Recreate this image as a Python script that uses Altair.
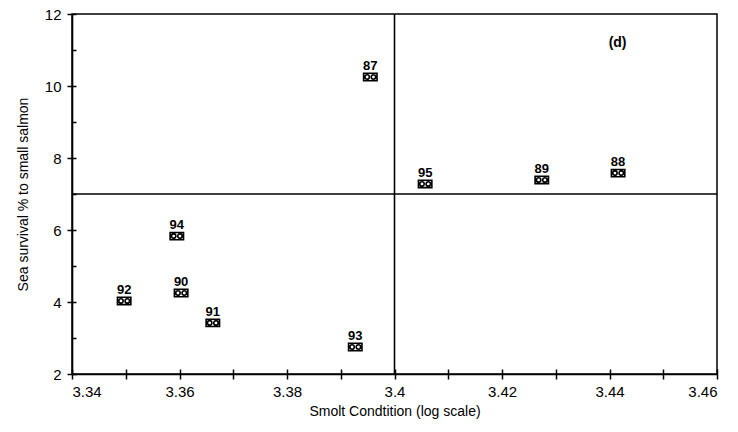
import altair as alt
import pandas as pd

years = ["87", "88", "89", "90", "91", "92", "93", "94", "95"]
condition = [3.3955, 3.4416, 3.4274, 3.3603, 3.3662, 3.3497, 3.3927, 3.3595, 3.4057]
survival = [10.25, 7.58, 7.39, 4.25, 3.42, 4.03, 2.75, 5.83, 7.28]

x_major = [3.34, 3.35, 3.36, 3.37, 3.38, 3.39, 3.40, 3.41, 3.42, 3.43, 3.44, 3.45, 3.46]
y_major = [2, 4, 6, 8, 10, 12]
y_all = [2, 3, 4, 5, 6, 7, 8, 9, 10, 11, 12]
h_line = [7.0]
v_line = [3.40]
panel_label = ["(d)"]
panel_x = [3.4415]
panel_y = [11.2]

FONT = "Liberation Sans"

df = pd.DataFrame({"year": years, "cond": condition, "surv": survival})

xs = alt.Scale(domain=[3.34, 3.46], nice=False, zero=False)
ys = alt.Scale(domain=[2, 12], nice=False, zero=False)

marker_path = ("M-1,-0.55H1V0.55H-1Z "
               "M-0.8,0A0.33,0.33 0 1,0 -0.14,0A0.33,0.33 0 1,0 -0.8,0Z "
               "M0.14,0A0.33,0.33 0 1,0 0.8,0A0.33,0.33 0 1,0 0.14,0Z")

base = alt.Chart(df)

points = base.mark_point(shape=marker_path, filled=False, size=180,
                         stroke="black", strokeWidth=1.6, opacity=1).encode(
    x=alt.X("cond:Q", scale=xs, axis=alt.Axis(
        values=x_major, title="Smolt Condtition (log scale)",
        labelExpr="abs(round(datum.value*100) % 2) < 0.5 ? format(datum.value, '~g') : ''",
        tickSize=5, tickColor="black", tickWidth=1.5, domainColor="black", domainWidth=1.6,
        labelFont=FONT, labelFontSize=15, labelColor="black", labelPadding=5,
        titleFont=FONT, titleFontSize=14, titleFontWeight="normal", titleColor="black",
        titlePadding=5, grid=False)),
    y=alt.Y("surv:Q", scale=ys, axis=alt.Axis(
        values=y_major, title="Sea survival % to small salmon",
        tickSize=5, tickColor="black", tickWidth=1.5, domainColor="black", domainWidth=1.6,
        labelFont=FONT, labelFontSize=15, labelColor="black", labelPadding=6,
        titleFont=FONT, titleFontSize=14, titleFontWeight="normal", titleColor="black",
        titlePadding=14, grid=False)),
)

labels = base.mark_text(font=FONT, fontSize=13, fontWeight="bold", color="black",
                        baseline="alphabetic", dy=-7).encode(
    x=alt.X("cond:Q", scale=xs, axis=alt.Axis(
        values=x_major, labels=False, title=None, domain=False, tickSize=5,
        tickColor="black", tickWidth=1.5, offset=-5, grid=False, orient="bottom")),
    y=alt.Y("surv:Q", scale=ys, axis=alt.Axis(
        values=y_all, labels=False, title=None, domain=False, tickSize=4,
        tickColor="black", tickWidth=1.5, offset=-4, grid=False, orient="left")),
    text="year:N",
)

hrule = alt.Chart(pd.DataFrame({"y": h_line})).mark_rule(color="black", strokeWidth=1.6).encode(
    y=alt.Y("y:Q", scale=ys, axis=None))
vrule = alt.Chart(pd.DataFrame({"x": v_line})).mark_rule(color="black", strokeWidth=1.6).encode(
    x=alt.X("x:Q", scale=xs, axis=None))

tag = alt.Chart(pd.DataFrame({"t": panel_label, "x": panel_x, "y": panel_y})).mark_text(
    font=FONT, fontSize=14, fontWeight="bold", color="black").encode(
    x=alt.X("x:Q", scale=xs, axis=None),
    y=alt.Y("y:Q", scale=ys, axis=None),
    text="t:N")

chart = alt.layer(points, labels, hrule, vrule, tag).resolve_axis(
    x="independent", y="independent"
).properties(
    width=645, height=360,
    autosize=alt.AutoSizeParams(type="none"),
    padding={"left": 72, "top": 14, "right": 21, "bottom": 58},
    background="white",
).configure_view(stroke="black", strokeWidth=1.5)

chart.save("out.html", embed_options={"renderer": "svg", "actions": False})
